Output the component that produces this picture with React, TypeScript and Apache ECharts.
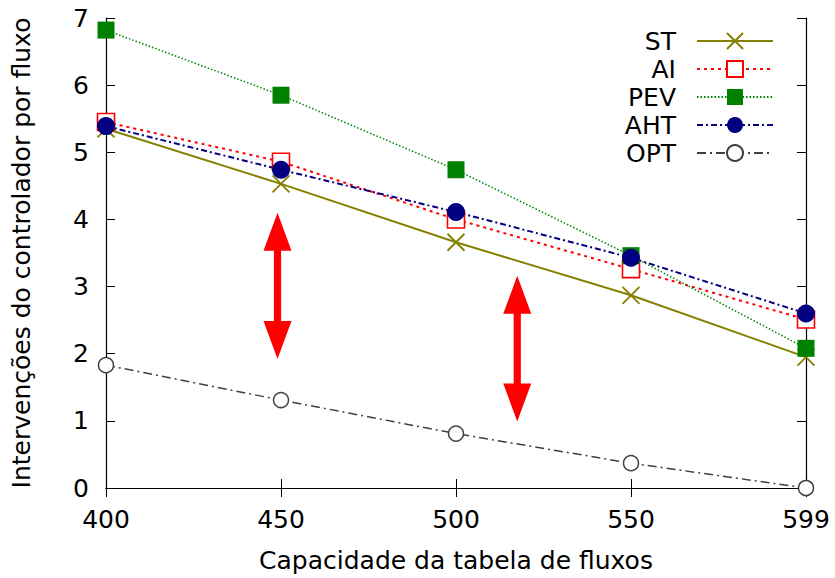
import React, { useEffect, useRef } from "react";
import * as echarts from "echarts";

const categories = ["400", "450", "500", "550", "599"];
const yTicks = [0, 1, 2, 3, 4, 5, 6, 7];
const stValues = [5.35, 4.53, 3.66, 2.87, 1.95];
const aiValues = [5.45, 4.86, 4.0, 3.26, 2.51];
const pevValues = [6.82, 5.85, 4.74, 3.46, 2.08];
const ahtValues = [5.39, 4.74, 4.11, 3.43, 2.6];
const optValues = [1.83, 1.31, 0.81, 0.37, 0.0];
// double-headed arrows: category position (index), value from, value to
const arrowX = [0.98, 2.35];
const arrowFrom = [4.1, 3.16];
const arrowTo = [1.92, 0.99];

const FONT = "'DejaVu Sans', 'Liberation Sans', Arial, sans-serif";

export default function App() {
  const ref = useRef<HTMLDivElement>(null);
  useEffect(() => {
    if (!ref.current) return;
    const chart = echarts.init(ref.current, undefined, { renderer: "svg" });
    const olive = "#858000";
    const mkSeries = (
      name: string,
      data: number[],
      color: string,
      type: any,
      width: number,
      symbol: string,
      size: number,
      itemStyle: any
    ) => ({
      name,
      type: "line",
      data,
      symbol,
      symbolSize: size,
      clip: false,
      lineStyle: { color, type, width },
      itemStyle,
      emphasis: { disabled: true },
    });
    const option: any = {
      animation: false,
      textStyle: { fontFamily: FONT },
      grid: { left: 106, top: 18, width: 700, height: 474, containLabel: false },
      legend: {
        orient: "vertical",
        right: 56,
        top: 23,
        align: "right",
        itemWidth: 76,
        itemHeight: 20,
        itemGap: 2,
        textStyle: { fontSize: 25, color: "#000", fontFamily: FONT, lineHeight: 26, padding: [0, 16, 0, 0] },
        data: ["ST", "AI", "PEV", "AHT", "OPT"],
        selectedMode: false,
      },
      xAxis: [
        {
          type: "category",
          data: categories,
          boundaryGap: false,
          name: "Capacidade da tabela de fluxos",
          nameLocation: "middle",
          nameGap: 60,
          nameTextStyle: { fontSize: 25, color: "#000", fontFamily: FONT },
          axisLine: { lineStyle: { color: "#000", width: 1.2 } },
          axisTick: { inside: true, length: 9, lineStyle: { color: "#000" } },
          axisLabel: { fontSize: 25, color: "#000", margin: 19, fontFamily: FONT },
          splitLine: { show: false },
        },
        {
          type: "category",
          data: categories,
          boundaryGap: false,
          position: "top",
          axisLine: { lineStyle: { color: "#000", width: 1.2 } },
          axisTick: { inside: true, length: 9, lineStyle: { color: "#000" } },
          axisLabel: { show: false },
          splitLine: { show: false },
        },
      ],
      yAxis: [
        {
          type: "value",
          min: yTicks[0],
          max: yTicks[yTicks.length - 1],
          interval: 1,
          name: "Intervenções do controlador por fluxo",
          nameLocation: "middle",
          nameGap: 72,
          nameTextStyle: { fontSize: 25, color: "#000", fontFamily: FONT },
          axisLine: { show: true, lineStyle: { color: "#000", width: 1.2 } },
          axisTick: { show: true, inside: true, length: 9, lineStyle: { color: "#000" } },
          axisLabel: { fontSize: 25, color: "#000", margin: 17, fontFamily: FONT },
          splitLine: { show: false },
        },
        {
          type: "value",
          min: yTicks[0],
          max: yTicks[yTicks.length - 1],
          interval: 1,
          position: "right",
          axisLine: { show: true, lineStyle: { color: "#000", width: 1.2 } },
          axisTick: { show: true, inside: true, length: 9, lineStyle: { color: "#000" } },
          axisLabel: { show: false },
          splitLine: { show: false },
        },
      ],
      series: [
        mkSeries("ST", stValues, olive, "solid", 2, "path://M0 0L10 10M10 0L0 10", 17, {
          color: olive,
          borderColor: olive,
          borderWidth: 1.8,
        }),
        mkSeries("AI", aiValues, "#ff0000", [3, 4], 2, "rect", 17, {
          color: "#ffffff",
          borderColor: "#ff0000",
          borderWidth: 1.6,
        }),
        mkSeries("PEV", pevValues, "#008000", [1.5, 2], 1.5, "rect", 17, {
          color: "#008000",
        }),
        mkSeries("AHT", ahtValues, "#000080", [6, 3, 2, 3], 2, "circle", 18, {
          color: "#000080",
        }),
        mkSeries("OPT", optValues, "#404040", [9, 4, 2, 4], 1.5, "circle", 15, {
          color: "#ffffff",
          borderColor: "#404040",
          borderWidth: 1.5,
        }),
      ],
    };
    chart.setOption(option);

    // red double-headed arrows
    const toPx = (xi: number, v: number) => {
      const i0 = Math.floor(xi);
      const p0 = chart.convertToPixel({ gridIndex: 0 }, [i0, v]) as number[];
      const p1 = chart.convertToPixel({ gridIndex: 0 }, [i0 + 1, v]) as number[];
      return [p0[0] + (p1[0] - p0[0]) * (xi - i0), p0[1]];
    };
    const graphics: any[] = [];
    arrowX.forEach((xi, k) => {
      const top = toPx(xi, arrowFrom[k]);
      const bot = toPx(xi, arrowTo[k]);
      const cx = top[0];
      const hw = 14;
      const hl = 38;
      const sw = 3.6;
      graphics.push({
        type: "polygon",
        shape: {
          points: [
            [cx, top[1]],
            [cx + hw, top[1] + hl],
            [cx + sw, top[1] + hl],
            [cx + sw, bot[1] - hl],
            [cx + hw, bot[1] - hl],
            [cx, bot[1]],
            [cx - hw, bot[1] - hl],
            [cx - sw, bot[1] - hl],
            [cx - sw, top[1] + hl],
            [cx - hw, top[1] + hl],
          ],
        },
        style: { fill: "#ff0000" },
        z: 100,
      });
    });
    chart.setOption({ graphic: graphics });

    return () => chart.dispose();
  }, []);
  return <div ref={ref} style={{ width: 835, height: 578, position: "absolute", left: 0, top: 0 }} />;
}
